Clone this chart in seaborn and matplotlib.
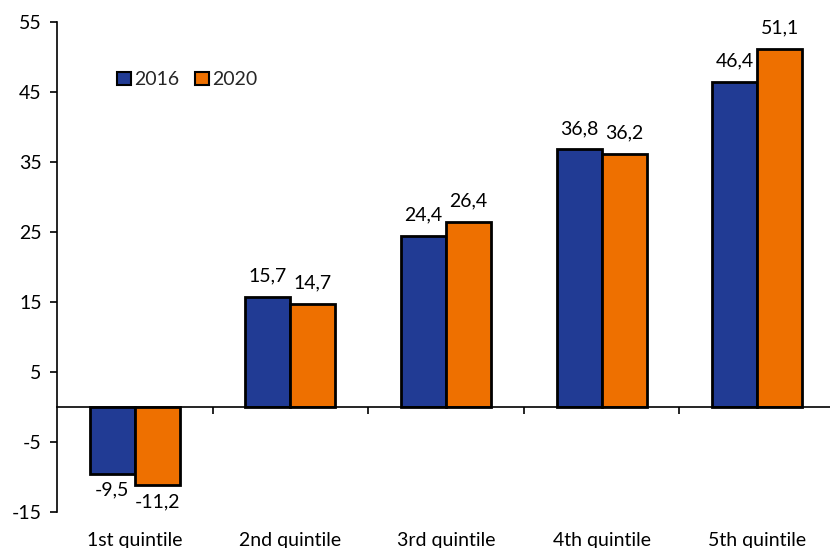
import matplotlib
matplotlib.use("Agg")
import matplotlib.pyplot as plt
import seaborn as sns
import pandas as pd
import numpy as np
from matplotlib.ticker import FixedLocator

categories = ["1st quintile", "2nd quintile", "3rd quintile", "4th quintile", "5th quintile"]
years = ["2016", "2020"]
values_2016 = [-9.5, 15.7, 24.4, 36.8, 46.4]
values_2020 = [-11.2, 14.7, 26.4, 36.2, 51.1]
y_ticks = [-15, -5, 5, 15, 25, 35, 45, 55]

colors = ["#213B94", "#EE7000"]

df = pd.DataFrame({
    "category": categories * 2,
    "year": [years[0]] * len(categories) + [years[1]] * len(categories),
    "value": values_2016 + values_2020,
})

sns.set_theme(style="white")
plt.rcParams["font.family"] = ["Lato", "DejaVu Sans"]
FS = 14

fig = plt.figure(figsize=(8.3, 5.48), dpi=100)
ax = fig.add_axes([57 / 830, 36 / 548, 778 / 830, 490 / 548])

sns.barplot(data=df, x="category", y="value", hue="year", order=categories,
            hue_order=years, palette=colors, width=0.578, edgecolor="black",
            linewidth=2, saturation=1, ax=ax, legend=True)

ax.set_ylim(-15, 55)
ax.set_xlim(-0.5, len(categories) - 0.5)
ax.set_yticks(y_ticks)
ax.set_yticklabels([str(t) for t in y_ticks], fontsize=FS)
ax.set_xlabel("")
ax.set_ylabel("")

for s in ["top", "right"]:
    ax.spines[s].set_visible(False)
ax.spines["left"].set_color("black")
ax.spines["left"].set_linewidth(1.2)
ax.spines["bottom"].set_position(("data", 0))
ax.spines["bottom"].set_color("black")
ax.spines["bottom"].set_linewidth(1.2)

ax.tick_params(axis="y", which="major", direction="out", length=5, width=1.2,
               color="black", left=True, pad=6, labelcolor="black")
ax.set_xticks(range(len(categories)))
ax.set_xticklabels(categories, fontsize=FS)
ax.tick_params(axis="x", which="major", length=0, pad=90, labelcolor="black")
ax.xaxis.set_minor_locator(FixedLocator(np.arange(0.5, len(categories) - 0.5, 1)))
ax.tick_params(axis="x", which="minor", direction="out", length=5, width=1.2,
               color="black", bottom=True)

for container in ax.containers:
    labels = [f"{v:.1f}".replace(".", ",") for v in container.datavalues]
    pads = [6 if v < 0 else 9 for v in container.datavalues]
    for bar, lab, v, p in zip(container, labels, container.datavalues, pads):
        ax.annotate(lab, xy=(bar.get_x() + bar.get_width() / 2, v),
                    xytext=(0, p if v >= 0 else -p), textcoords="offset points",
                    ha="center", va="bottom" if v >= 0 else "top",
                    fontsize=FS, color="black")

leg = ax.legend(loc="upper left", bbox_to_anchor=(0.067, 0.915), ncol=2,
                frameon=False, fontsize=FS, handlelength=0.7, handleheight=0.7,
                handletextpad=0.2, columnspacing=0.8, borderaxespad=0)
for h in leg.legend_handles:
    h.set_edgecolor("black")
    h.set_linewidth(1.5)

fig.savefig("out.png", dpi=100)
